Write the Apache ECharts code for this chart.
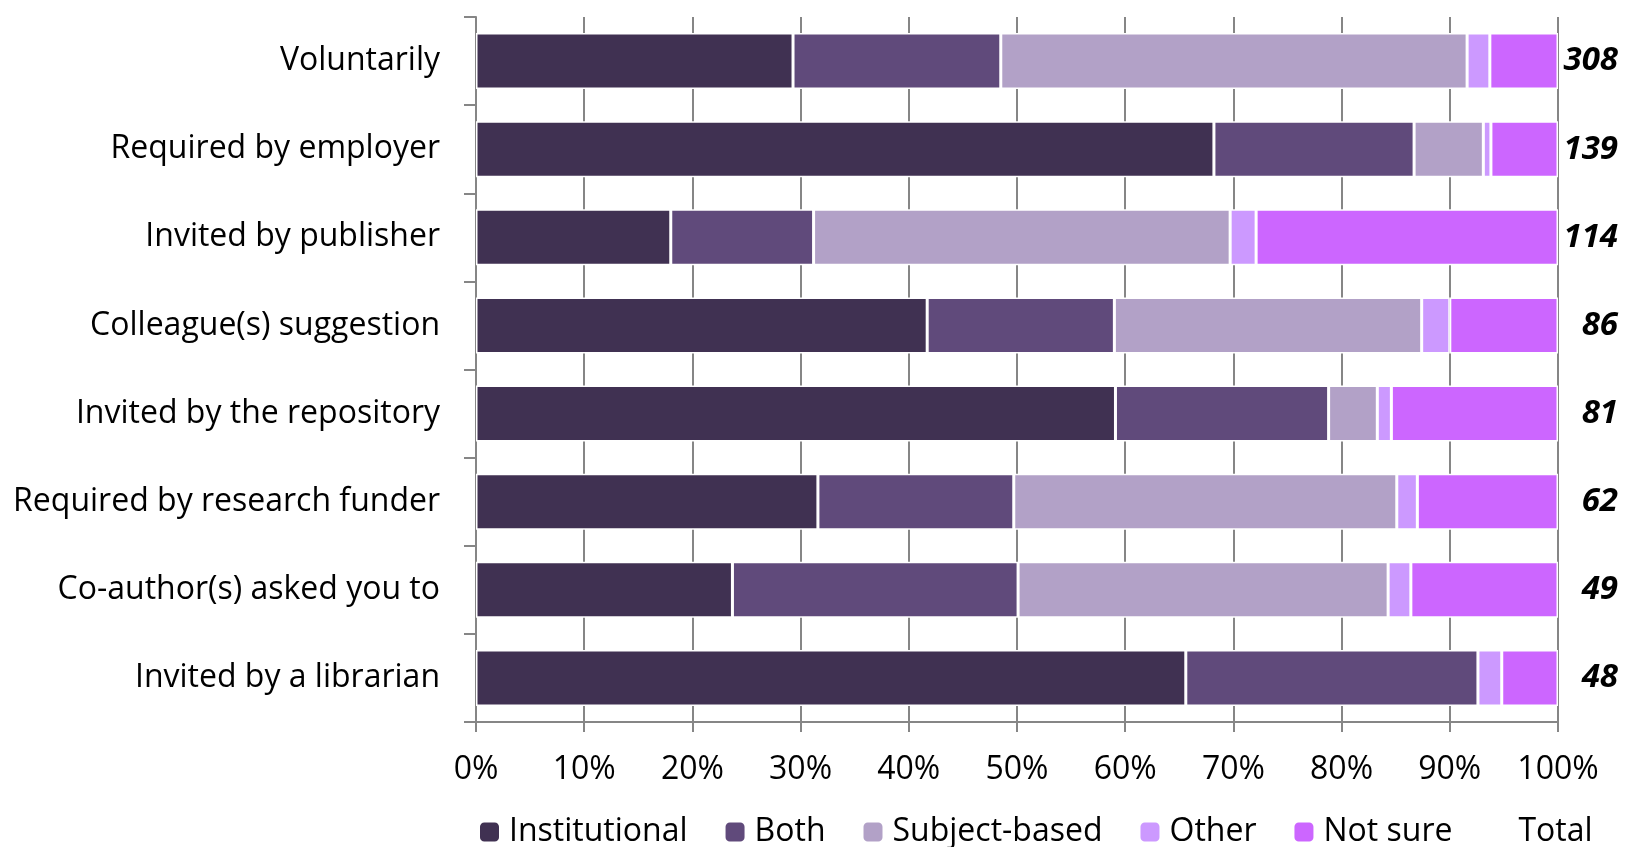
<!DOCTYPE html>
<html>
<head>
<meta charset="utf-8">
<script src="https://cdn.jsdelivr.net/npm/echarts@6/dist/echarts.min.js"></script>
<style>
html,body{margin:0;padding:0;background:#fff;}
#main{width:1625px;height:847px;}
</style>
</head>
<body>
<div id="main"></div>
<script>
const categories = ['Voluntarily','Required by employer','Invited by publisher','Colleague(s) suggestion','Invited by the repository','Required by research funder','Co-author(s) asked you to','Invited by a librarian'];
const totals = [308,139,114,86,81,62,49,48];
const institutional = [29.3,68.2,18.0,41.7,59.1,31.6,23.7,65.6];
const both = [19.2,18.5,13.2,17.3,19.7,18.1,26.4,27.0];
const subjectBased = [43.1,6.4,38.5,28.4,4.5,35.4,34.2,0];
const other = [2.1,0.7,2.4,2.6,1.3,1.9,2.1,2.2];
const notSure = [6.3,6.2,27.9,10.0,15.4,13.0,13.6,5.2];
const xTicks = [0,10,20,30,40,50,60,70,80,90,100];

const seriesNames = ['Institutional','Both','Subject-based','Other','Not sure'];
const seriesData = [institutional, both, subjectBased, other, notSure];
const colors = ['#403152','#604a7b','#b2a1c7','#cc99ff','#cc66ff'];

const FONT = 'Open Sans';
const chart = echarts.init(document.getElementById('main'));
chart.setOption({
  animation:false,
  backgroundColor:'#fff',
  textStyle:{fontFamily:FONT},
  grid:{left:476,right:67,top:17,bottom:125,containLabel:false},
  legend:{
    left:473, top:811, width:1152, itemWidth:21, itemHeight:21, itemGap:36,
    textStyle:{fontFamily:FONT,fontSize:32,color:'#000',padding:[0,0,0,4]},
    data:seriesNames.map(n=>({name:n})).concat([{name:'Total',itemStyle:{color:'rgba(0,0,0,0)',borderWidth:0}}])
  },
  xAxis:{
    type:'value', min:xTicks[0], max:xTicks[xTicks.length-1], interval:10,
    axisLine:{show:true,lineStyle:{color:'#868686',width:2}},
    axisTick:{show:true,length:10,lineStyle:{color:'#868686',width:2}},
    axisLabel:{formatter:'{value}%',fontSize:32,color:'#000',margin:32,fontFamily:FONT},
    splitLine:{show:true,lineStyle:{color:'#868686',width:2}}
  },
  yAxis:[{
    type:'category', data:categories, inverse:true,
    axisLine:{show:true,lineStyle:{color:'#868686',width:2}},
    axisTick:{show:true,length:12,lineStyle:{color:'#868686',width:2}},
    axisLabel:{fontSize:32,color:'#000',margin:36,fontFamily:FONT}
  },{
    type:'category', data:totals, inverse:true, position:'right',
    axisLine:{show:false}, axisTick:{show:false},
    axisLabel:{fontSize:33,color:'#000',fontWeight:'bold',fontStyle:'italic',align:'right',margin:60,fontFamily:FONT}
  }],
  series:seriesNames.map((n,i)=>({
    name:n, type:'bar', stack:'all', data:seriesData[i], barWidth:56,
    itemStyle:{color:colors[i],borderColor:'#fff',borderWidth:1.5}
  })).concat([{name:'Total',type:'bar',stack:'all',data:totals.map(()=>0),yAxisIndex:0,itemStyle:{color:'rgba(0,0,0,0)'}}])
});
</script>
</body>
</html>
